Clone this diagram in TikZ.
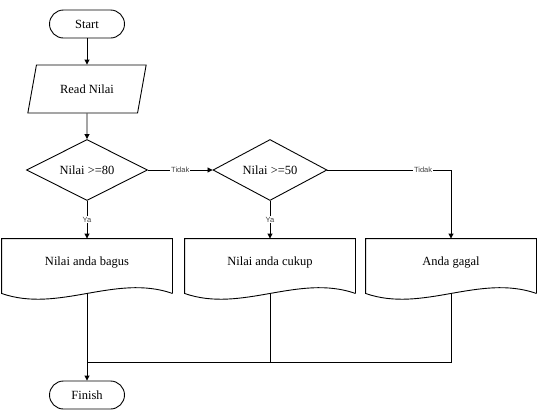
\documentclass[tikz,border=0pt]{standalone}
\usepackage{fontspec}
\setmainfont{Liberation Serif}
\newfontfamily\lblfont{Liberation Sans}
\usetikzlibrary{shapes.geometric, arrows.meta, positioning, calc}

\tikzset{
    terminal/.style={draw, rounded corners=14pt, minimum width=75pt, minimum height=28pt, inner sep=0pt},
    inputbox/.style={draw, trapezium, trapezium left angle=62.5, trapezium right angle=117.5, trapezium stretches=true, minimum width=119pt, minimum height=48pt, inner sep=0pt},
    decision/.style={draw, diamond, aspect=2, inner sep=0pt},
    docbox/.style={minimum width=170pt, minimum height=54pt, inner sep=0pt, text height=9pt, text depth=11pt},
    arr/.style={-{Triangle[length=5pt, width=5pt]}},
    branch/.style={fill=white, inner sep=1pt, text=black!75, font=\lblfont\fontsize{7.5}{8}\selectfont}
}

\begin{document}
\begin{tikzpicture}[x=1pt, y=-1pt, line width=0.9pt, font=\rmfamily\fontsize{12.5}{15}\selectfont]
    \useasboundingbox (0,0) rectangle (549,416);

    \node[terminal] (start) at (87,24) {Start};
    \node[inputbox] (read) at (87,89) {Read Nilai};
    \node[decision, minimum width=121pt, minimum height=61pt] (d1) at (87,170) {Nilai >=80};
    \node[decision, minimum width=114pt, minimum height=61pt] (d2) at (270,170) {Nilai >=50};

    \node[docbox] (bagus) at (87,266) {Nilai anda bagus};
    \node[docbox] (cukup) at (270,266) {Nilai anda cukup};
    \node[docbox] (gagal) at (451,266) {Anda gagal};

    \node[terminal] (finish) at (87,395) {Finish};

    % wavy document outlines
    \foreach \n in {bagus, cukup, gagal}
        \draw (\n.south east) -- (\n.north east) -- (\n.north west) -- (\n.south west)
            .. controls +(57,20) and +(-57,-20) .. (\n.south east);

    \coordinate (join) at (87,362);

    \draw[arr] (start) -- (read);
    \draw[arr] (read) -- (d1);
    \draw[arr] (d1) -- node[branch] {Tidak} (d2);
    \draw[arr] (d2.east) -| node[branch, pos=0.387] {Tidak} (gagal.north);
    \draw[arr] (d1) -- node[branch] {Ya} (bagus);
    \draw[arr] (d2) -- node[branch] {Ya} (cukup);

    \draw[arr] (bagus.south) -- (finish);
    \draw (cukup.south) -- (cukup.south |- join);
    \draw (gagal.south) |- (join);
\end{tikzpicture}
\end{document}
